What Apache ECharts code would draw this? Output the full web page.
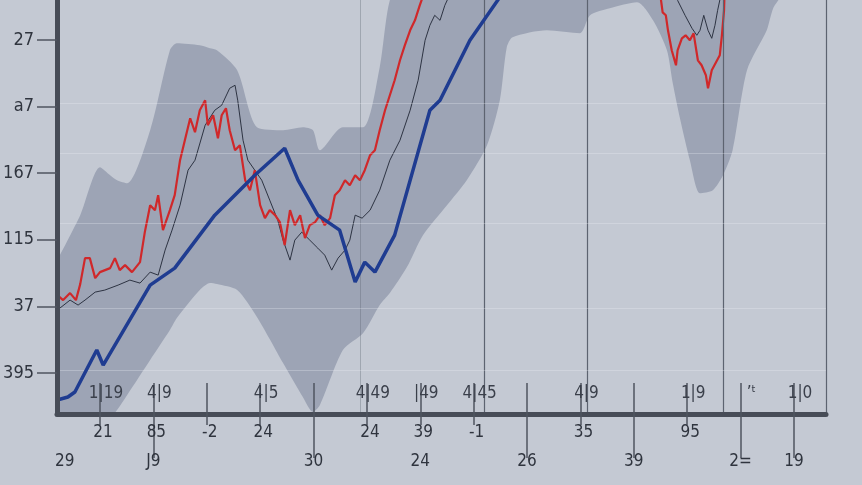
<!DOCTYPE html>
<html>
<head>
<meta charset="utf-8">
<script src="https://cdn.jsdelivr.net/npm/echarts@6/dist/echarts.min.js"></script>
<style>
html,body{margin:0;padding:0;background:#c4c9d3;}
#chart{width:862px;height:485px;}
</style>
</head>
<body>
<div id="chart"></div>
<script>
// ---- tick labels ----
const yTickValues = [0, 20, 40, 60, 80, 100];
const yTickLabels = ['395', '37', '115', '167', 'a7', '27'];
const xTickValues = [0, 10, 20, 30, 40, 50, 60, 70, 80, 90, 100, 110, 120, 130];
const xInsideLabels = ['1|19', '4|9', '', '4|5', '', '4|49', '|49', '4|45', '', '4|9', '', '1|9', '  \u2019\u1d57', '1|0'];
const xRow1Values = [0, 10, 20, 30, 50, 60, 70, 90, 110];
const xRow1Labels = ['21', '85', '-2', '24', '24', '39', '-1', '35', '95'];
const xRow2Values = [-6.6, 10, 40, 60, 80, 100, 120, 130];
const xRow2Labels = ['29', 'J9', '30', '24', '26', '39', '2=', '19'];
const xLongTicks = [10, 40, 80, 100, 120, 130];
const xGuideLines = [71.9, 91.2, 116.7, 136];
const xFaintGuideLines = [48.7];
const yGuideLines = [0.9, 19.5, 45, 66, 81];

// ---- series values ----
const blueX = [-8.0, -6.0, -4.7, -0.6, 0.6, 9.4, 14.0, 21.5, 29.0, 34.6, 37.1, 40.8, 44.9, 47.8, 49.6, 51.5, 55.2, 61.8, 63.7, 69.3, 74.5, 76.8];
const blueY = [-8.1, -7.2, -5.7, 6.9, 2.4, 26.4, 31.5, 47.4, 59.4, 67.5, 57.9, 47.4, 42.9, 27.3, 33.3, 30.3, 41.4, 78.9, 81.9, 99.9, 111.9, 117.9];

const redX = [-8.0, -6.9, -5.6, -4.5, -3.7, -2.8, -1.9, -0.9, 0, 1.9, 2.8, 3.7, 4.7, 6.0, 7.5, 8.4, 9.4, 10.3, 10.9, 11.8, 13.1, 14.0, 15.0, 15.9, 16.9, 17.8, 18.7, 19.7, 20.2, 21.2, 22.1, 22.8, 23.6, 24.3, 25.3, 26.2, 27.2, 28.1, 29.0, 30.0, 30.9, 31.8, 32.8, 33.7, 34.6, 35.6, 36.5, 37.5, 38.4, 39.3, 40.3, 41.2, 42.1, 43.1, 44.0, 44.9, 45.9, 46.8, 47.8, 48.7, 49.6, 50.6, 51.5, 52.4, 53.4, 54.3, 55.2, 56.2, 57.1, 58.1, 59.0, 59.9, 60.9, 80, 104.5, 105.1, 105.4, 106.0, 106.4, 107.1, 107.9, 108.2, 109.0, 109.7, 110.5, 111.2, 112.0, 112.7, 113.5, 113.9, 114.6, 115.4, 116.1, 116.5, 116.9, 117.0];
const redY = [23.4, 21.9, 24.0, 21.9, 26.7, 34.5, 34.5, 28.5, 30.3, 31.5, 34.5, 30.9, 32.4, 30.3, 33.3, 42.3, 50.4, 48.9, 53.4, 42.9, 48.9, 53.4, 63.9, 69.9, 76.5, 72.3, 78.9, 81.9, 74.4, 77.4, 70.5, 77.4, 79.5, 72.9, 66.9, 68.4, 57.9, 54.9, 60.9, 50.4, 46.5, 48.9, 47.4, 45.3, 38.4, 48.9, 44.4, 47.4, 40.5, 44.4, 45.3, 47.4, 44.4, 46.5, 53.4, 54.9, 57.9, 56.4, 59.4, 57.9, 60.9, 65.4, 66.9, 72.9, 78.9, 83.4, 87.9, 93.9, 98.4, 102.9, 105.9, 110.4, 114.9, 125, 125, 111.9, 108.3, 107.4, 102.9, 96.9, 92.4, 96.9, 100.5, 101.4, 99.9, 102.0, 93.9, 92.4, 89.4, 85.5, 90.9, 93.3, 95.4, 101.4, 108.9, 114.9];

const darkX = [-7.5, -5.6, -4.1, -2.8, -0.9, 0.9, 3.4, 5.6, 7.5, 9.4, 10.9, 12.2, 13.5, 15.0, 16.5, 17.8, 19.7, 21.5, 22.8, 24.3, 25.3, 25.8, 26.8, 27.7, 29.0, 30.3, 31.8, 33.3, 34.3, 35.6, 36.5, 37.8, 39.3, 40.8, 42.1, 43.4, 44.6, 45.9, 46.8, 47.8, 49.1, 50.6, 52.4, 54.3, 56.2, 58.1, 59.6, 60.9, 61.8, 62.7, 63.7, 64.6, 65.9, 80, 104, 108.2, 109.6, 110.9, 111.8, 112.4, 113.1, 113.9, 114.6, 115.2, 115.7, 116.3];
const darkY = [19.5, 21.9, 20.4, 21.9, 24.3, 24.9, 26.4, 27.9, 27.0, 30.3, 29.4, 36.9, 42.9, 50.4, 60.9, 63.9, 74.4, 78.9, 80.4, 85.5, 86.4, 81.9, 69.9, 63.9, 60.9, 57.9, 51.9, 45.9, 39.9, 33.9, 39.9, 42.3, 39.9, 37.5, 35.4, 30.9, 34.5, 36.9, 39.9, 47.4, 46.5, 48.9, 54.9, 63.9, 69.9, 78.9, 87.9, 99.9, 104.4, 107.4, 105.9, 110.4, 114.9, 125, 125, 111.9, 107.4, 103.5, 101.4, 102.9, 107.4, 102.9, 100.5, 104.4, 108.9, 113.4];

const bandX = [-8.0, -3.7, 0, 1.9, 3.2, 5.1, 9.4, 13.1, 14.4, 18.7, 20.6, 21.9, 25.7, 29.4, 34.3, 38.0, 39.9, 41.2, 45.5, 49.3, 52.4, 54.3, 57.5, 60.5, 65.0, 68.7, 72.5, 74.9, 76.2, 77.3, 83.7, 89.9, 91.8, 95.5, 100.6, 103.6, 106.2, 107.3, 108.6, 110.5, 112.4, 114.8, 116.7, 118.5, 121.2, 124.9, 126.4, 131.1, 136];
const bandLow = [-14.1, -14.1, -14.1, -13.5, -11.1, -6.6, 3.9, 12.9, 16.5, 24.9, 27.0, 26.7, 24.9, 16.8, 3.0, -7.2, -11.7, -9.6, 6.9, 12.0, 20.4, 24.0, 31.8, 41.4, 50.4, 57.9, 68.4, 81.9, 97.8, 100.8, 102.9, 102.0, 107.4, 109.5, 111.3, 105.9, 96.9, 87.0, 76.8, 63.9, 54.0, 54.9, 59.4, 66.9, 90.9, 102.9, 110.4, 117.9, 117.9];
const bandHigh = [33.9, 47.4, 61.8, 59.4, 57.9, 57.0, 72.9, 96.9, 99.0, 98.4, 97.5, 96.9, 90.9, 73.8, 72.9, 73.8, 72.9, 66.9, 73.8, 73.8, 91.8, 111.9, 121, 121, 121, 121, 121, 121, 121, 121, 121, 121, 121, 121, 121, 121, 121, 121, 121, 121, 121, 121, 121, 121, 121, 121, 121, 121, 121];

const zip = (xs, ys) => xs.map((x, i) => [x, ys[i]]);
const lookup = (vals, labels) => (v) => { const i = vals.findIndex(t => Math.abs(t - v) < 1e-6); return i >= 0 ? labels[i] : ''; };

const BG = '#c4c9d3';
const AXIS = '#474c57';
const TICK = '#4f5460';
const FONT = 'Liberation Sans Narrow, DejaVu Sans Condensed, Liberation Sans, sans-serif';
const X_MIN = -8.05, X_MAX = 136, Y_MIN = -12.3, Y_MAX = 112;

const chart = echarts.init(document.getElementById('chart'));
const baseX = { type: 'value', min: X_MIN, max: X_MAX, position: 'bottom', splitLine: { show: false }, z: 10 };

chart.setOption({
  backgroundColor: BG,
  animation: false,
  grid: { left: 57, right: 36, top: 0, bottom: 71 },
  xAxis: [
    Object.assign({}, baseX, {
      axisLine: { show: true, onZero: false, lineStyle: { color: AXIS, width: 5 } },
      axisTick: { show: true, inside: true, length: 31, customValues: xTickValues, lineStyle: { color: TICK, width: 1.5 } },
      axisLabel: { inside: true, margin: 12, padding: [0, 0, 0, 12], customValues: xTickValues, formatter: lookup(xTickValues, xInsideLabels), color: '#3a3f4a', fontSize: 17, fontFamily: FONT }
    }),
    Object.assign({}, baseX, {
      axisLine: { show: false, onZero: false },
      axisTick: { show: true, length: 11, customValues: xTickValues, lineStyle: { color: TICK, width: 1.5 } },
      axisLabel: { margin: 10, padding: [0, 0, 0, 6], customValues: xRow1Values, formatter: lookup(xRow1Values, xRow1Labels), color: '#2f343e', fontSize: 17, fontFamily: FONT }
    }),
    Object.assign({}, baseX, {
      axisLine: { show: false, onZero: false },
      axisTick: { show: true, length: 44, customValues: xLongTicks, lineStyle: { color: TICK, width: 1.5 } },
      axisLabel: { margin: 39, customValues: xRow2Values, formatter: lookup(xRow2Values, xRow2Labels), color: '#2f343e', fontSize: 17, fontFamily: FONT }
    })
  ],
  yAxis: {
    type: 'value', min: Y_MIN, max: Y_MAX, z: 10,
    axisLine: { show: true, onZero: false, lineStyle: { color: AXIS, width: 5 } },
    axisTick: { show: true, length: 20, customValues: yTickValues, lineStyle: { color: TICK, width: 1.5 } },
    axisLabel: { margin: 23, customValues: yTickValues, formatter: lookup(yTickValues, yTickLabels), color: '#2f343e', fontSize: 18, fontFamily: FONT },
    splitLine: { show: false }
  },
  series: [
    { type: 'line', data: zip(bandX, bandHigh), smooth: 0.25, symbol: 'none', lineStyle: { width: 0 },
      areaStyle: { color: '#9da4b5', opacity: 1, origin: 'start' }, z: 1, silent: true },
    { type: 'line', data: zip(bandX, bandLow), smooth: 0.25, symbol: 'none', lineStyle: { width: 0 },
      areaStyle: { color: BG, opacity: 1, origin: 'start' }, z: 1.1, silent: true },
    { type: 'line', data: [], z: 2, silent: true,
      markLine: { silent: true, symbol: 'none', label: { show: false },
        lineStyle: { color: '#5d6370', width: 1.2, type: 'solid' },
        data: xGuideLines.map(v => ({ xAxis: v }))
          .concat(xFaintGuideLines.map(v => ({ xAxis: v, lineStyle: { color: 'rgba(93,99,112,0.35)', width: 1 } })))
          .concat(yGuideLines.map(v => ({ yAxis: v, lineStyle: { color: 'rgba(235,238,245,0.3)', width: 1 } }))) } },
    { type: 'line', data: zip(darkX, darkY), symbol: 'none', lineStyle: { color: '#2d3342', width: 1 }, z: 3 },
    { type: 'line', data: zip(redX, redY), symbol: 'none', lineStyle: { color: '#d0282a', width: 2.2 }, z: 4 },
    { type: 'line', data: zip(blueX, blueY), symbol: 'none', lineStyle: { color: '#1f3c91', width: 3.5 }, z: 5 }
  ]
});
</script>
</body>
</html>
